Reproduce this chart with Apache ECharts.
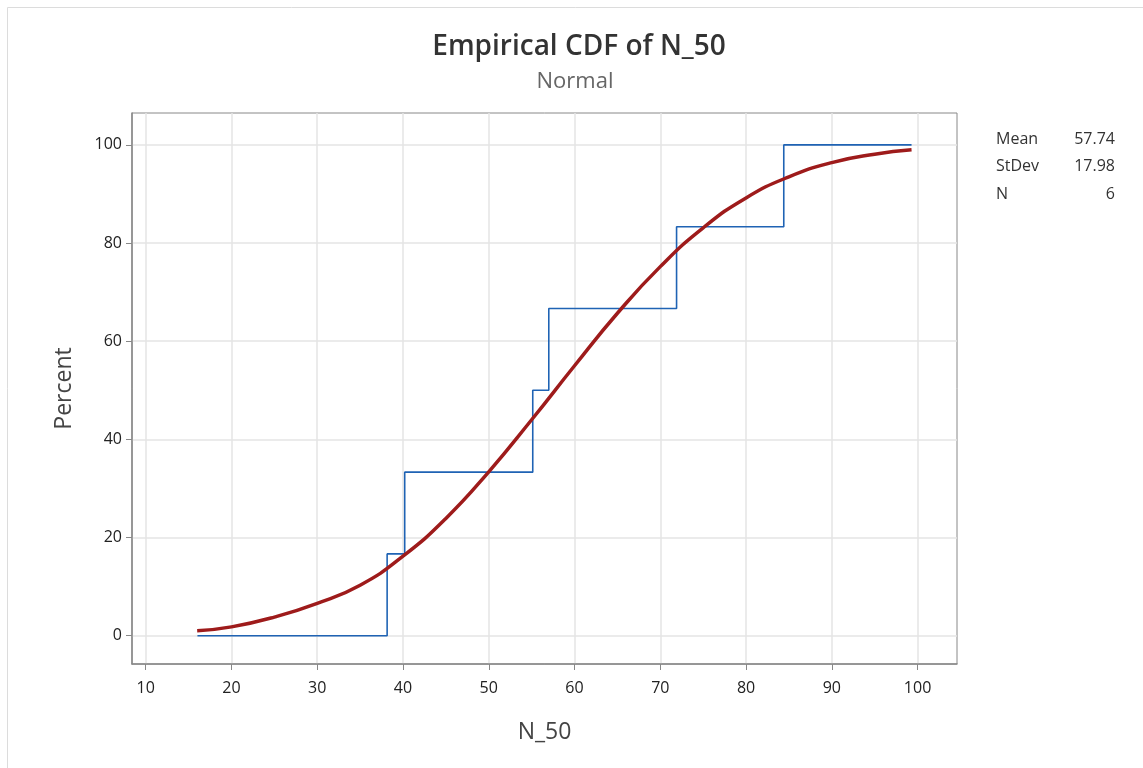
<!DOCTYPE html>
<html><head><meta charset="utf-8">
<script src="https://cdn.jsdelivr.net/npm/echarts@6/dist/echarts.min.js"></script>
<style>html,body{margin:0;padding:0;background:#fff}#c{width:1143px;height:768px}</style>
</head><body><div id="c"></div>
<script>
// Empirical step function (x, percent)
const stepX = [16.03, 38.15, 40.2, 55.13, 57.0, 71.9, 84.4, 99.3];
const stepY = [0, 16.67, 33.33, 50, 66.67, 83.33, 100, 100];
// Fitted normal curve
const fitX = [16, 20, 25, 30, 35, 40, 45, 50, 55, 60, 65, 70, 75, 80, 85, 90, 95, 99.3];
const fitY = [1.0, 1.8, 3.8, 6.6, 10.3, 16.2, 23.9, 33.4, 44.0, 55.0, 65.7, 75.2, 83.1, 89.2, 93.5, 96.4, 98.1, 99.0];
const xTicks = [10, 20, 30, 40, 50, 60, 70, 80, 90, 100];
const yTicks = [0, 20, 40, 60, 80, 100];
const statNames = ['Mean', 'StDev', 'N'];
const statVals = ['57.74', '17.98', '6'];

const F = '"Open Sans","Noto Sans",sans-serif';
const chart = echarts.init(document.getElementById('c'));
const stepData = stepX.map((x, i) => [x, stepY[i]]);
const fitData = fitX.map((x, i) => [x, fitY[i]]);

const graphics = [
  {type:'rect', shape:{x:7.5, y:7.5, width:1150, height:780}, style:{fill:'none', stroke:'#dcdcdc', lineWidth:1}, silent:true},
  {type:'text', x:579, y:47, style:{text:'Empirical CDF of N_50', font:'600 28px '+F, fill:'#333', textAlign:'center', textVerticalAlign:'middle'}},
  {type:'text', x:575, y:82, style:{text:'Normal', font:'22px '+F, fill:'#666', textAlign:'center', textVerticalAlign:'middle'}}
];
statNames.forEach((n, i) => {
  graphics.push({type:'text', x:996, y:139 + i*27.5, style:{text:n, font:'16px '+F, fill:'#333', textAlign:'left', textVerticalAlign:'middle'}});
  graphics.push({type:'text', x:1115, y:139 + i*27.5, style:{text:statVals[i], font:'16px '+F, fill:'#333', textAlign:'right', textVerticalAlign:'middle'}});
});

chart.setOption({
  animation:false,
  backgroundColor:'#fff',
  grid:{left:132, right:186, top:113, bottom:104, show:true, borderColor:'#888', borderWidth:1, backgroundColor:'transparent'},
  xAxis:{type:'value', min:8.4, max:104.6, interval:10,
    name:'N_50', nameLocation:'middle', nameGap:57, nameTextStyle:{fontSize:23, color:'#444', fontFamily:F},
    axisLine:{show:true, onZero:false, lineStyle:{color:'#888', width:1.5}},
    axisTick:{show:true, length:6, lineStyle:{color:'#888'}, customValues: xTicks},
    axisLabel:{fontSize:16, color:'#222', fontFamily:F, margin:16, customValues: xTicks},
    splitLine:{show:true, lineStyle:{color:'#e4e4e4', width:1.5}}
  },
  yAxis:{type:'value', min:-5.76, max:106.5,
    name:'Percent', nameLocation:'middle', nameGap:56, nameTextStyle:{fontSize:23, color:'#444', fontFamily:F},
    axisLine:{show:true, onZero:false, lineStyle:{color:'#888', width:1.5}},
    axisTick:{show:true, length:6, lineStyle:{color:'#888'}, customValues: yTicks},
    axisLabel:{fontSize:16, color:'#222', fontFamily:F, margin:10, customValues: yTicks},
    splitLine:{show:true, lineStyle:{color:'#e4e4e4', width:1.5}}
  },
  graphic: graphics,
  series:[
    {type:'line', step:'end', data:stepData, symbol:'none', lineStyle:{color:'#1f63b4', width:1.6}, z:2},
    {type:'line', smooth:true, data:fitData, symbol:'none', lineStyle:{color:'#9e1b1b', width:3.5}, z:3}
  ]
});
</script></body></html>
